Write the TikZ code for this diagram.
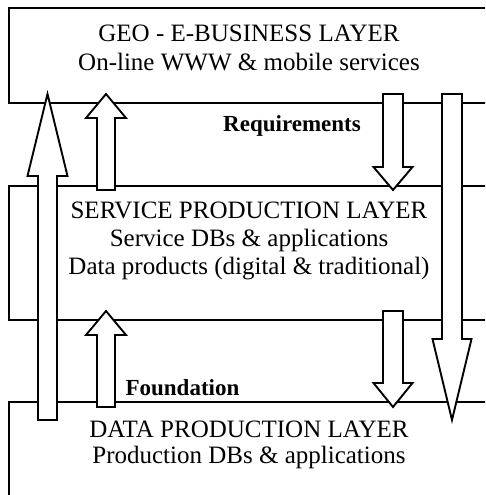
\documentclass[tikz,border=0pt]{standalone}
\usepackage{fontspec}
\setmainfont{Liberation Serif}
\begin{document}
\begin{tikzpicture}[x=1pt,y=-1pt,
  layer/.style={draw=black,line width=1.9pt,fill=white},
  blockarrow/.style={draw=black,line width=1.9pt,fill=white,line join=miter},
  txt/.style={anchor=base,inner sep=0pt,font=\fontsize{25}{29}\selectfont},
  lbl/.style={anchor=base,inner sep=0pt,font=\fontsize{23}{27}\selectfont\bfseries}]
% block arrow: x, half shaft, half head, tail y, head base y, tip y
\newcommand{\BlockArrow}[6]{%
  \draw[blockarrow] (#1-#2,#4) -- (#1-#2,#5) -- (#1-#3,#5) -- (#1,#6)
    -- (#1+#3,#5) -- (#1+#2,#5) -- (#1+#2,#4) -- cycle;}
\useasboundingbox (0,0) rectangle (485,495);
\clip (0,0) rectangle (485,495);

% the three layers (they run on past the right edge)
\draw[layer] (9,8) rectangle (520,103) coordinate (geo);
\draw[layer] (9,186) rectangle (520,320) coordinate (svc);
\draw[layer] (9,402) rectangle (520,540) coordinate (dat);

% layer texts
\node[txt] (geoA) at (249,42) {GEO - E-BUSINESS LAYER};
\node[txt] (geoB) at (249,70.7) {On-line WWW \& mobile services};
\node[txt] (svcA) at (249,218) {SERVICE PRODUCTION LAYER};
\node[txt] (svcB) at (249,246.5) {Service DBs \& applications};
\node[txt] (svcC) at (249,274) {Data products (digital \& traditional)};
\node[txt] (datA) at (249,437) {DATA PRODUCTION LAYER};
\node[txt] (datB) at (249,463.5) {Production DBs \& applications};

% flows between layers
\BlockArrow{47.5}{9.5}{20}{420}{176}{94}
\BlockArrow{106}{9}{20}{190}{118}{94}
\BlockArrow{106}{9}{20}{407}{335}{311}
\BlockArrow{393}{10}{19.5}{94}{167}{190}
\BlockArrow{393}{10}{19.5}{311}{383}{407}
\BlockArrow{452}{10}{19.5}{94}{339}{420}

% labels
\node[lbl] (req) at (292,131.5) {Requirements};
\node[lbl] (fnd) at (182.5,395.5) {Foundation};
\end{tikzpicture}
\end{document}
